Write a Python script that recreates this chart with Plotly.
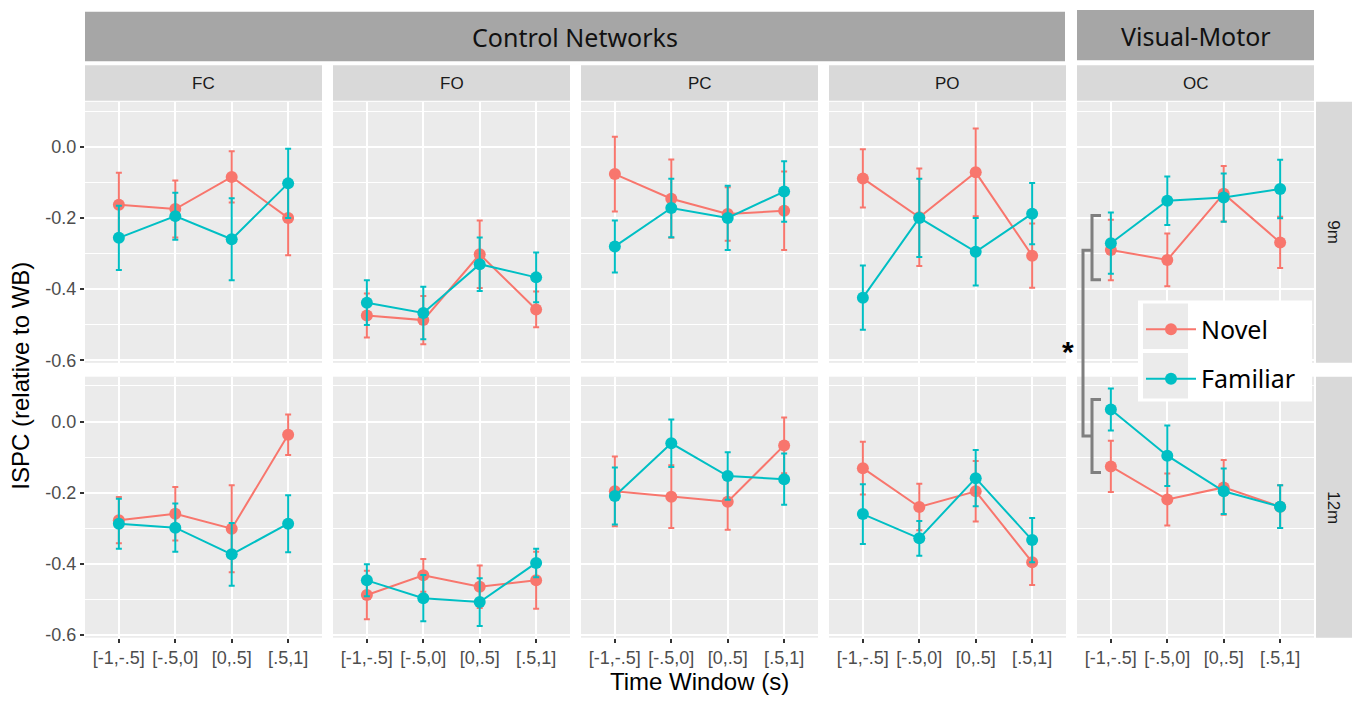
import plotly.graph_objects as go

W, H = 1356, 704

regions = ["FC", "FO", "PC", "PO", "OC"]
ages = ["9m", "12m"]
windows = ["[-1,-.5]", "[-.5,0]", "[0,.5]", "[.5,1]"]
groups = ["Control Networks", "Visual-Motor"]

# means per region (FC, FO, PC, PO, OC), each over the 4 windows
novel_9m = [[-0.163, -0.175, -0.085, -0.200],
            [-0.474, -0.487, -0.302, -0.457],
            [-0.077, -0.146, -0.189, -0.180],
            [-0.089, -0.198, -0.072, -0.306],
            [-0.290, -0.318, -0.132, -0.269]]
novel_9m_se = [[0.090, 0.080, 0.072, 0.105],
               [0.062, 0.068, 0.095, 0.050],
               [0.105, 0.110, 0.075, 0.110],
               [0.082, 0.137, 0.123, 0.090],
               [0.085, 0.074, 0.078, 0.072]]
familiar_9m = [[-0.256, -0.195, -0.260, -0.103],
               [-0.438, -0.467, -0.330, -0.367],
               [-0.280, -0.172, -0.200, -0.126],
               [-0.424, -0.200, -0.295, -0.188],
               [-0.271, -0.152, -0.143, -0.119]]
familiar_9m_se = [[0.090, 0.066, 0.115, 0.097],
                  [0.063, 0.074, 0.075, 0.070],
                  [0.073, 0.082, 0.090, 0.085],
                  [0.090, 0.110, 0.095, 0.086],
                  [0.086, 0.068, 0.068, 0.082]]
novel_12m = [[-0.277, -0.259, -0.301, -0.037],
             [-0.487, -0.432, -0.464, -0.446],
             [-0.196, -0.211, -0.225, -0.067],
             [-0.131, -0.240, -0.196, -0.395],
             [-0.126, -0.219, -0.185, -0.239]]
novel_12m_se = [[0.065, 0.075, 0.122, 0.057],
                [0.068, 0.046, 0.060, 0.080],
                [0.098, 0.088, 0.079, 0.078],
                [0.074, 0.065, 0.085, 0.064],
                [0.072, 0.073, 0.077, 0.060]]
familiar_12m = [[-0.287, -0.298, -0.373, -0.287],
                [-0.446, -0.496, -0.507, -0.397],
                [-0.209, -0.061, -0.153, -0.162],
                [-0.260, -0.328, -0.159, -0.333],
                [0.034, -0.096, -0.196, -0.239]]
familiar_12m_se = [[0.070, 0.068, 0.088, 0.080],
                   [0.045, 0.065, 0.067, 0.040],
                   [0.080, 0.067, 0.067, 0.072],
                   [0.084, 0.049, 0.079, 0.062],
                   [0.059, 0.085, 0.064, 0.060]]

y_ticks = [0.0, -0.2, -0.4, -0.6]
y_tick_text = ["0.0", "-0.2", "-0.4", "-0.6"]
y_minor = [0.1, -0.1, -0.3, -0.5]

NOVEL = "#F8766D"
FAMILIAR = "#00BFC4"

col_left = [85, 333, 581, 829, 1077]
pw = 237
row_top = [103, 381]
ph = 264


def px(x):
    return x / W


def py(y):
    return 1 - y / H


fig = go.Figure()

data = {
    0: [("Novel", novel_9m, novel_9m_se, NOVEL), ("Familiar", familiar_9m, familiar_9m_se, FAMILIAR)],
    1: [("Novel", novel_12m, novel_12m_se, NOVEL), ("Familiar", familiar_12m, familiar_12m_se, FAMILIAR)],
}

TICKFONT = dict(family="Liberation Sans, Arial", size=18, color="#4d4d4d")

layout_axes = {}
for r in range(2):
    for c in range(5):
        k = r * 5 + c + 1
        xa = "x" if k == 1 else f"x{k}"
        ya = "y" if k == 1 else f"y{k}"
        for name, means, ses, col in data[r]:
            fig.add_trace(go.Scatter(
                x=windows, y=means[c],
                error_y=dict(type="data", array=ses[c], color=col, thickness=2, width=3),
                mode="lines+markers",
                line=dict(color=col, width=2),
                marker=dict(size=12, color=col),
                name=name, legendgroup=name,
                showlegend=(k == 1),
                xaxis=xa, yaxis=ya,
            ))
        xkey = "xaxis" if k == 1 else f"xaxis{k}"
        ykey = "yaxis" if k == 1 else f"yaxis{k}"
        layout_axes[xkey] = dict(
            domain=[px(col_left[c]), px(col_left[c] + pw)],
            anchor=ya, type="category", categoryorder="array", categoryarray=windows,
            range=[-0.6, 3.6], showgrid=True, gridcolor="white", gridwidth=1.5,
            zeroline=False, showline=False,
            showticklabels=(r == 1), ticks="outside" if r == 1 else "",
            ticklen=4, tickwidth=1.5, tickcolor="#333333",
            tickfont=TICKFONT,
            fixedrange=True,
        )
        layout_axes[ykey] = dict(
            domain=[py(row_top[r] + ph), py(row_top[r])],
            anchor=xa, range=[-0.607, 0.126],
            tickmode="array", tickvals=y_ticks, ticktext=y_tick_text,
            showgrid=True, gridcolor="white", gridwidth=1.5,
            minor=dict(tickmode="array", tickvals=y_minor, showgrid=True,
                       gridcolor="white", gridwidth=0.7, ticks=""),
            zeroline=False, showline=False,
            showticklabels=(c == 0), ticks="outside" if c == 0 else "",
            ticklen=4, tickwidth=1.5, tickcolor="#333333",
            tickfont=TICKFONT,
            fixedrange=True,
        )

shapes = []
annotations = []


def rect(x0, y0, x1, y1, fill, layer="above"):
    shapes.append(dict(type="rect", xref="paper", yref="paper",
                       x0=px(x0), x1=px(x1), y0=py(y1), y1=py(y0),
                       fillcolor=fill, line=dict(width=0), layer=layer))


def text(x, y, s, size, color="#1a1a1a", family="Liberation Sans, Arial", angle=0, bold=False):
    annotations.append(dict(xref="paper", yref="paper", x=px(x), y=py(y),
                            text=f"<b>{s}</b>" if bold else s, showarrow=False,
                            xanchor="center", yanchor="middle", textangle=angle,
                            font=dict(size=size, color=color, family=family)))


# top-level group strips
rect(85, 12, 1065, 62, "#a6a6a6")
text((85 + 1065) / 2, 37, groups[0], 25, "#111111", "Noto Sans")
rect(1077, 10, 1314, 61, "#a6a6a6")
text((1077 + 1314) / 2, 36, groups[1], 25, "#111111", "Noto Sans")

# column strips
for c in range(5):
    rect(col_left[c], 66, col_left[c] + pw, 102, "#d9d9d9")
    text(col_left[c] + pw / 2, 84, regions[c], 17)

# row strips
for r in range(2):
    rect(1316, row_top[r], 1352, row_top[r] + ph, "#d9d9d9")
    text(1334, row_top[r] + ph / 2, ages[r], 17, angle=90)

# axis titles
text(21, 380, "ISPC (relative to WB)", 24, "#000000", angle=-90)
text(699, 689, "Time Window (s)", 24, "#000000")


# significance brackets
def path(points):
    return "M " + " L ".join(f"{px(a)},{py(b)}" for a, b in points)


for pts in ([(1101, 218), (1092, 218), (1092, 283), (1101, 283)],
            [(1092, 253), (1083, 253), (1083, 441), (1092, 441)],
            [(1101, 404), (1092, 404), (1092, 478), (1101, 478)]):
    shapes.append(dict(type="path", xref="paper", yref="paper", path=path(pts),
                       line=dict(color="#7f7f7f", width=3), layer="above"))
text(1068, 356, "*", 30, "#000000", bold=True)

# legend box and key backgrounds
rect(1138, 304, 1312, 406, "white")
rect(1143, 307, 1188, 353, "#ebebeb")
rect(1143, 357, 1188, 403, "#ebebeb")

fig.update_layout(
    width=W, height=H,
    margin=dict(l=0, r=0, t=0, b=0),
    paper_bgcolor="white", plot_bgcolor="#ebebeb",
    shapes=shapes, annotations=annotations,
    showlegend=True,
    legend=dict(x=px(1141), y=py(310), xanchor="left", yanchor="top",
                bgcolor="rgba(0,0,0,0)", font=dict(family="Noto Sans", size=25, color="#000000"),
                itemwidth=50, tracegroupgap=14),
    **layout_axes,
)

fig.write_html("out.html", config={"displayModeBar": False},
               post_script="document.body.style.margin='0';document.body.style.overflow='hidden';")
